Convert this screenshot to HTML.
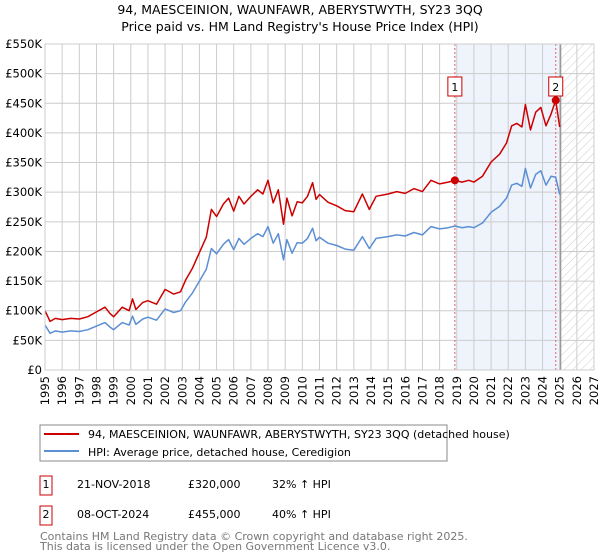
<!DOCTYPE html>
<html><head><meta charset="utf-8"><style>
body{margin:0;background:#fff;width:600px;height:560px;overflow:hidden;font-family:"DejaVu Sans","Liberation Sans",sans-serif}
svg{position:absolute;left:0;top:0}
</style></head><body>
<svg id="c" width="600" height="560" font-family="DejaVu Sans, Liberation Sans, sans-serif">
<defs><pattern id="hatch" width="6" height="6" patternUnits="userSpaceOnUse" patternTransform="rotate(45)"><line x1="0" y1="0" x2="0" y2="6" stroke="#ccc" stroke-width="1"/></pattern></defs>
<text x="300" y="14" text-anchor="middle" font-size="12.5" fill="#000">94, MAESCEINION, WAUNFAWR, ABERYSTWYTH, SY23 3QQ</text>
<text x="300" y="31" text-anchor="middle" font-size="12.5" fill="#000">Price paid vs. HM Land Registry's House Price Index (HPI)</text>
<g id="plot"></g>
<rect x="40" y="425" width="407" height="36" fill="#fff" stroke="#888"/>
<line x1="44" y1="434" x2="79" y2="434" stroke="#cc0000" stroke-width="2"/>
<text x="88" y="438" font-size="11">94, MAESCEINION, WAUNFAWR, ABERYSTWYTH, SY23 3QQ (detached house)</text>
<line x1="44" y1="451" x2="79" y2="451" stroke="#5b8fd4" stroke-width="2"/>
<text x="88" y="456" font-size="11">HPI: Average price, detached house, Ceredigion</text>
<g font-size="11">
<rect x="40" y="476" width="12" height="19" fill="#fff" stroke="#cc0000"/>
<text x="46" y="488" text-anchor="middle">1</text>
<text x="77" y="488">21-NOV-2018</text>
<text x="188" y="488">£320,000</text>
<text x="272" y="488">32% ↑ HPI</text>
<rect x="40" y="506" width="12" height="19" fill="#fff" stroke="#cc0000"/>
<text x="46" y="518" text-anchor="middle">2</text>
<text x="77" y="518">08-OCT-2024</text>
<text x="188" y="518">£455,000</text>
<text x="272" y="518">40% ↑ HPI</text>
</g>
<text x="40" y="540" font-size="11" fill="#777">Contains HM Land Registry data © Crown copyright and database right 2025.</text>
<text x="40" y="550" font-size="11" fill="#777">This data is licensed under the Open Government Licence v3.0.</text>
</svg>
<script>
const years=[1995.0,1995.3,1995.6,1996.0,1996.5,1997.0,1997.5,1998.0,1998.5,1998.8,1999.0,1999.5,1999.9,2000.1,2000.3,2000.7,2001.0,2001.5,2002.0,2002.5,2002.9,2003.2,2003.6,2004.0,2004.4,2004.7,2005.0,2005.4,2005.7,2006.0,2006.3,2006.6,2007.0,2007.4,2007.7,2008.0,2008.3,2008.6,2008.9,2009.1,2009.4,2009.7,2010.0,2010.3,2010.6,2010.8,2011.0,2011.5,2012.0,2012.5,2013.0,2013.5,2013.9,2014.3,2015.0,2015.5,2016.0,2016.5,2017.0,2017.5,2018.0,2018.5,2018.9,2019.3,2019.7,2020.0,2020.5,2021.0,2021.5,2021.9,2022.2,2022.5,2022.8,2023.0,2023.3,2023.6,2023.9,2024.2,2024.5,2024.77,2025.0];
const hpiValues=[76,62,66,64,66,65,68,74,80,72,68,80,76,91,77,86,89,84,103,97,100,115,130,150,170,205,196,212,220,203,222,212,222,230,225,242,214,230,186,220,197,215,214,222,239,218,224,214,210,204,202,225,205,222,225,228,226,232,228,242,238,240,243,240,242,240,248,266,276,290,312,315,310,340,307,330,336,312,327,325,296];
const propertyValues=[100,82,87,85,87,86,90,98,106,95,90,106,100,120,102,114,117,111,136,128,132,152,172,198,224,271,259,280,290,268,293,280,293,304,297,320,282,304,246,290,260,284,282,293,316,288,296,283,277,269,267,297,271,293,297,301,298,306,301,320,314,317,320,317,320,317,327,351,364,383,412,416,410,448,405,435,443,412,432,455,410];
const saleYears=[2018.89,2024.77];
const salePrices=[320,455];
const saleLabels=["1","2"];
const yTicks=[0,50,100,150,200,250,300,350,400,450,500,550];
const yTickLabels=["£0","£50K","£100K","£150K","£200K","£250K","£300K","£350K","£400K","£450K","£500K","£550K"];
const xTicks=[1995,1996,1997,1998,1999,2000,2001,2002,2003,2004,2005,2006,2007,2008,2009,2010,2011,2012,2013,2014,2015,2016,2017,2018,2019,2020,2021,2022,2023,2024,2025,2026,2027];
const dataEnd=2025.05;

const X0=45,X1=594,Y0=370,Y1=44;
const xs=y=>X0+(y-1995)/(2027-1995)*(X1-X0);
const ys=v=>Y0-v/550*(Y0-Y1);
const NS="http://www.w3.org/2000/svg";
const g=document.getElementById('plot');
function mk(t,a){const e=document.createElementNS(NS,t);for(const k in a)e.setAttribute(k,a[k]);g.appendChild(e);return e;}

let r=mk('rect',{x:xs(saleYears[0]),y:Y1,width:xs(dataEnd)-xs(saleYears[0]),height:Y0-Y1,fill:'#eef3fc'});


r=mk('rect',{x:xs(dataEnd),y:Y1,width:X1-xs(dataEnd),height:Y0-Y1,fill:'url(#hatch)'});



yTicks.forEach((v,i)=>{
  let l=mk('line',{x1:X0,x2:X1,y1:ys(v),y2:ys(v),stroke:'#ccc'});
  
  
  let t=mk('text',{x:X0-3,y:ys(v)+4,'text-anchor':'end','font-size':'11.5',fill:'#000'});
  t.textContent=yTickLabels[i];
  
  
});
xTicks.forEach(y=>{
  let l=mk('line',{x1:xs(y),x2:xs(y),y1:Y1,y2:Y0,stroke:'#ccc'});
  
  
  let t=mk('text',{x:0,y:0,'text-anchor':'end','font-size':'11.5',fill:'#000',transform:`translate(${xs(y)+4},376) rotate(-90)`});
  t.textContent=y;
  
  
});
let el=mk('line',{x1:xs(dataEnd),x2:xs(dataEnd),y1:Y1,y2:Y0,stroke:'#999','stroke-width':1.5});



saleYears.forEach((y,i)=>{
  let l=mk('line',{x1:xs(y),x2:xs(y),y1:Y1,y2:Y0,stroke:'#e06666','stroke-dasharray':'2,2'});
  
  
});

function path(vals,color,name){
  const d=years.map((y,i)=>(i?'L':'M')+xs(y).toFixed(1)+','+ys(vals[i]).toFixed(1)).join(' ');
  const p=mk('path',{d,fill:'none',stroke:color,'stroke-width':1.5,'stroke-linejoin':'round'});
  
  
}
path(hpiValues,'#5b8fd4','hpi-line');
path(propertyValues,'#cc0000','property-line');

saleYears.forEach((y,i)=>{
  let c=mk('circle',{cx:xs(y),cy:ys(salePrices[i]),r:4,fill:'#cc0000'});
  
  
  let b=mk('rect',{x:xs(y)-7,y:77,width:14,height:19,fill:'#fff',stroke:'#cc0000'});
  
  
  let t=mk('text',{x:xs(y),y:91,'text-anchor':'middle','font-size':'11'});
  t.textContent=saleLabels[i];
  
  
});
let ax=mk('rect',{x:X0,y:Y1,width:X1-X0,height:Y0-Y1,fill:'none',stroke:'#ccc'});


</script>
</body></html>
